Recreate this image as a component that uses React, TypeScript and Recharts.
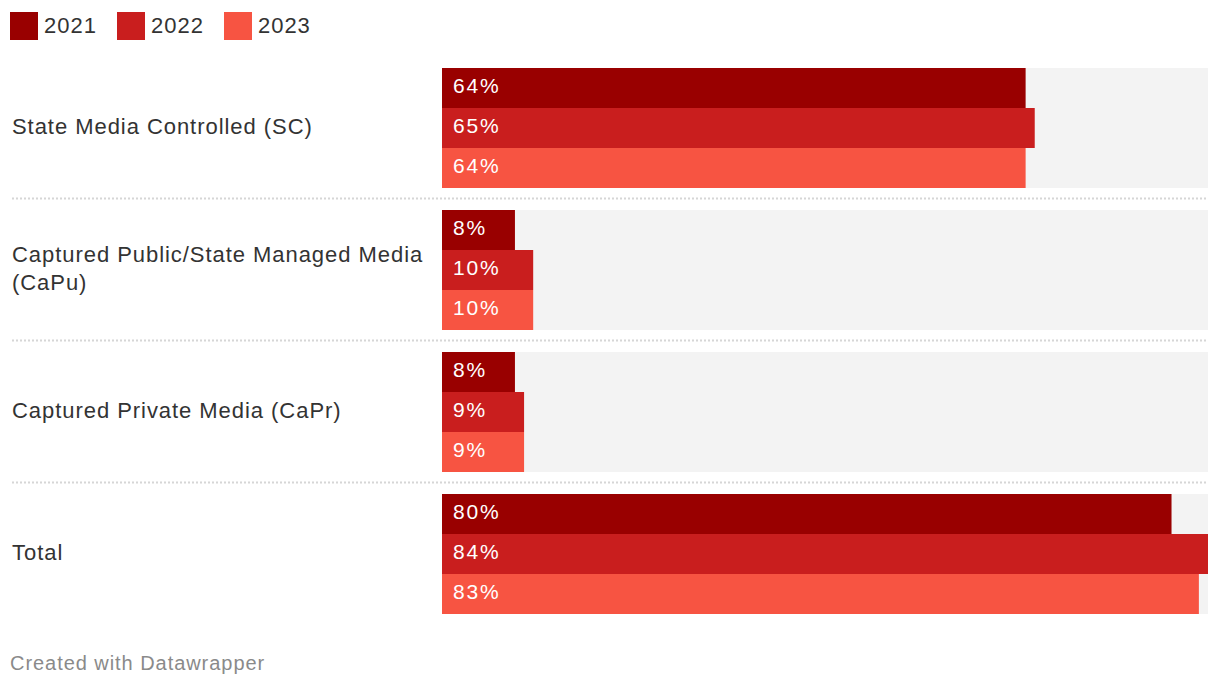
import React from 'react';
import { BarChart, Bar, XAxis, YAxis, LabelList } from 'recharts';

const categories = [
  'State Media Controlled (SC)',
  'Captured Public/State Managed Media (CaPu)',
  'Captured Private Media (CaPr)',
  'Total',
];
const categoryLines = [
  ['State Media Controlled (SC)'],
  ['Captured Public/State Managed Media', '(CaPu)'],
  ['Captured Private Media (CaPr)'],
  ['Total'],
];
const seriesNames = ['2021', '2022', '2023'];
const values2021 = [64, 8, 8, 80];
const values2022 = [65, 10, 9, 84];
const values2023 = [64, 10, 9, 83];
const seriesColors = ['#990000', '#c91e1e', '#f75442'];

const FONT = '"Liberation Sans", Arial, Helvetica, sans-serif';

const data = categories.map((name, i) => ({
  name,
  y2021: values2021[i],
  y2022: values2022[i],
  y2023: values2023[i],
}));
const seriesKeys = ['y2021', 'y2022', 'y2023'];

const HALF_BAND = 71;

const CategoryTick = (props: any) => {
  const { y, payload } = props;
  const idx = categories.indexOf(payload.value);
  const lines = categoryLines[idx] || [payload.value];
  const lineH = 28;
  const startY = y - ((lines.length - 1) * lineH) / 2 - 2;
  return (
    <g>
      <text
        x={12}
        y={startY}
        fill="#333333"
        fontSize={22}
        fontFamily={FONT}
        letterSpacing={0.95}
        textAnchor="start"
      >
        {lines.map((l, i) => (
          <tspan key={i} x={12} y={startY + i * lineH} dy="0.36em">
            {l}
          </tspan>
        ))}
      </text>
      {idx < categories.length - 1 && (
        <line
          x1={12}
          x2={1208}
          y1={y + HALF_BAND - 0.5}
          y2={y + HALF_BAND - 0.5}
          stroke="#d6d6d6"
          strokeWidth={2}
          strokeDasharray="2 2"
        />
      )}
    </g>
  );
};

export default function App() {
  return (
    <div
      style={{
        position: 'absolute',
        left: 0,
        top: 0,
        width: 1220,
        height: 688,
        background: '#ffffff',
        fontFamily: FONT,
      }}
    >
      <div
        style={{
          position: 'absolute',
          left: 10,
          top: 12,
          display: 'flex',
          alignItems: 'center',
          height: 28,
        }}
      >
        {seriesNames.map((n, i) => (
          <div
            key={n}
            style={{ display: 'flex', alignItems: 'center', marginRight: 20 }}
          >
            <div
              style={{
                width: 28,
                height: 28,
                background: seriesColors[i],
                marginRight: 6,
              }}
            />
            <span
              style={{
                fontSize: 22,
                color: '#333333',
                lineHeight: '26px',
                letterSpacing: 1,
              }}
            >
              {n}
            </span>
          </div>
        ))}
      </div>
      <div style={{ position: 'absolute', left: 0, top: 0 }}>
        <BarChart
          width={1220}
          height={688}
          data={data}
          layout="vertical"
          barGap={0}
          margin={{ top: 57, right: 12, bottom: 63, left: 0 }}
        >
          <XAxis type="number" domain={[0, 84]} hide />
          <YAxis
            type="category"
            dataKey="name"
            width={442}
            axisLine={false}
            tickLine={false}
            tick={<CategoryTick />}
            interval={0}
          />
          {seriesKeys.map((k, i) => (
            <Bar
              key={k}
              dataKey={k}
              name={seriesNames[i]}
              fill={seriesColors[i]}
              barSize={40}
              background={{ fill: '#f3f3f3' }}
              isAnimationActive={false}
            >
              <LabelList
                dataKey={k}
                position="insideLeft"
                offset={11}
                fill="#ffffff"
                fontSize={21}
                fontFamily={FONT}
                letterSpacing={1.8}
                dy={-2}
                formatter={(v: any) => `${v}%`}
              />
            </Bar>
          ))}
        </BarChart>
      </div>
      <div
        style={{
          position: 'absolute',
          left: 10,
          top: 650,
          fontSize: 20,
          color: '#8a8a8a',
          lineHeight: '26px',
          letterSpacing: 0.95,
        }}
      >
        Created with Datawrapper
      </div>
    </div>
  );
}
